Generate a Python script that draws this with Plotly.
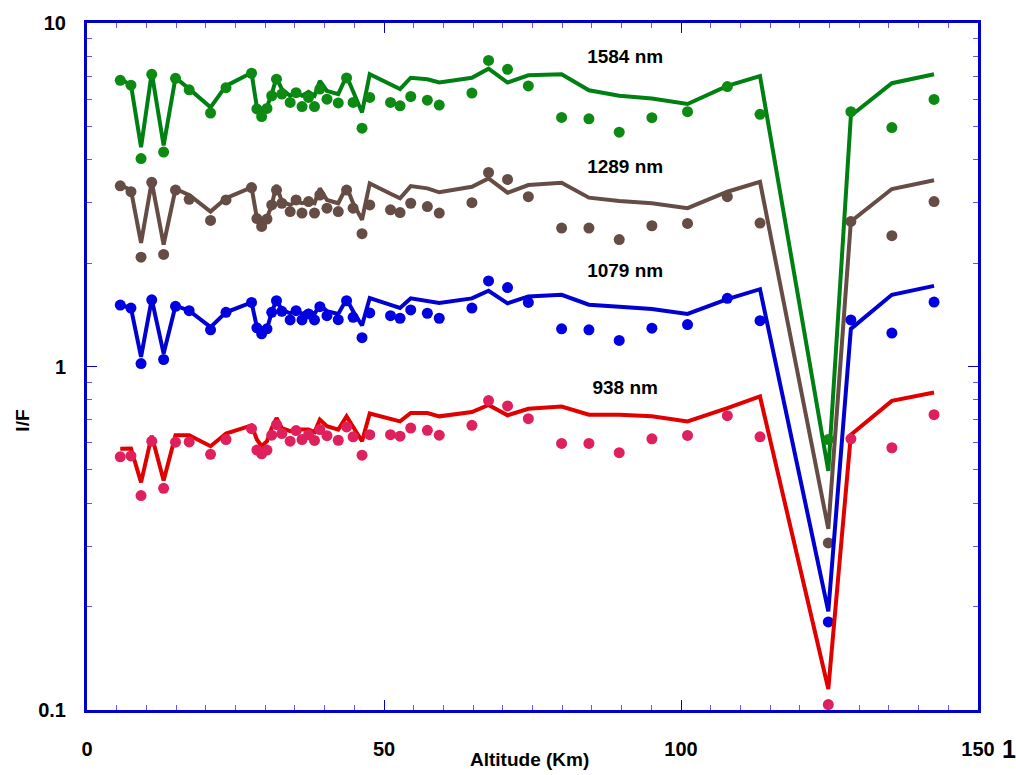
import plotly.graph_objects as go

# Altitude grid (km) shared by all channels
altitude = [5.6, 7.4, 9.1, 10.9, 12.9, 14.9, 17.2, 20.8, 23.4, 27.7,
            28.6, 29.4, 30.3, 31.1, 31.9, 32.8, 34.2, 35.2, 36.2, 37.3,
            38.3, 39.2, 40.4, 42.3, 43.7, 44.8, 46.3, 47.6, 51.1, 52.7,
            54.5, 57.3, 59.3, 64.8, 67.6, 70.8, 74.3, 79.9, 84.5, 89.6,
            95.1, 101.1, 107.8, 113.3, 124.8, 128.6, 135.5, 142.6]

# 1584 nm
model_1584 = [6.87, 6.60, 4.35, 7.16, 4.40, 6.93, 6.43, 5.68, 6.56, 7.16,
              5.68, 5.44, 5.70, 6.22, 6.93, 6.42, 6.14, 6.30, 6.14, 6.30,
              6.14, 6.78, 6.34, 6.21, 7.01, 6.34, 5.49, 7.09, 6.62, 6.42,
              6.93, 6.86, 6.71, 6.93, 7.36, 6.71, 7.04, 7.09, 6.37, 6.14,
              6.03, 5.81, 6.56, 7.01, 0.497, 5.37, 6.68, 7.09]
obs_1584 = [6.81, 6.59, 4.03, 7.09, 4.21, 6.90, 6.39, 5.47, 6.48, 7.14,
            5.62, 5.34, 5.64, 6.14, 6.86, 6.21, 5.87, 6.27, 5.71, 6.07,
            5.71, 6.42, 6.00, 5.85, 6.92, 5.87, 4.94, 6.07, 5.87, 5.74,
            6.11, 5.96, 5.77, 6.25, 7.78, 7.33, 6.56, 5.31, 5.26, 4.81,
            5.30, 5.52, 6.53, 5.42, 0.613, 5.52, 4.96, 5.99]

# 1289 nm
model_1289 = [3.374, 3.264, 2.290, 3.450, 2.265, 3.286, 3.157, 2.825, 3.089, 3.323,
              2.704, 2.621, 2.704, 2.954, 3.374, 3.020, 2.954, 3.020, 2.987, 3.020,
              2.987, 3.301, 3.054, 2.987, 3.337, 2.987, 2.674, 3.412, 3.184, 3.089,
              3.352, 3.301, 3.215, 3.337, 3.528, 3.206, 3.374, 3.425, 3.101, 3.034,
              2.987, 2.890, 3.227, 3.450, 0.337, 2.644, 3.286, 3.487]
obs_1289 = [3.358, 3.227, 2.081, 3.436, 2.119, 3.264, 3.068, 2.662, 3.054, 3.318,
            2.696, 2.557, 2.687, 2.954, 3.264, 2.987, 2.825, 3.054, 2.796, 3.020,
            2.796, 3.157, 2.890, 2.825, 3.264, 2.890, 2.436, 2.954, 2.858, 2.807,
            2.987, 2.921, 2.796, 2.999, 3.671, 3.504, 3.121, 2.530, 2.530, 2.342,
            2.569, 2.609, 3.121, 2.616, 0.3064, 2.644, 2.404, 3.020]

# 1079 nm
model_1079 = [1.510, 1.480, 1.067, 1.571, 1.090, 1.503, 1.454, 1.302, 1.438, 1.537,
              1.302, 1.254, 1.287, 1.438, 1.561, 1.461, 1.429, 1.461, 1.422, 1.454,
              1.422, 1.513, 1.448, 1.422, 1.571, 1.448, 1.316, 1.582, 1.511, 1.480,
              1.579, 1.554, 1.530, 1.579, 1.661, 1.527, 1.600, 1.617, 1.513, 1.493,
              1.470, 1.422, 1.571, 1.679, 0.1937, 1.287, 1.617, 1.717]
obs_1079 = [1.510, 1.480, 1.020, 1.564, 1.048, 1.497, 1.454, 1.279, 1.438, 1.537,
            1.296, 1.245, 1.287, 1.438, 1.554, 1.448, 1.366, 1.454, 1.366, 1.422,
            1.366, 1.493, 1.406, 1.369, 1.554, 1.391, 1.213, 1.432, 1.406, 1.382,
            1.461, 1.429, 1.382, 1.480, 1.774, 1.698, 1.537, 1.287, 1.279, 1.191,
            1.293, 1.325, 1.579, 1.360, 0.1805, 1.366, 1.251, 1.540]

# 938 nm
model_938 = [0.576, 0.577, 0.460, 0.629, 0.466, 0.631, 0.631, 0.586, 0.638, 0.674,
             0.613, 0.586, 0.606, 0.662, 0.708, 0.662, 0.648, 0.655, 0.655, 0.655,
             0.644, 0.700, 0.670, 0.655, 0.716, 0.670, 0.606, 0.730, 0.704, 0.692,
             0.732, 0.732, 0.716, 0.737, 0.773, 0.721, 0.753, 0.765, 0.724, 0.724,
             0.716, 0.692, 0.756, 0.818, 0.1151, 0.633, 0.794, 0.840]
obs_938 = [0.546, 0.549, 0.421, 0.606, 0.442, 0.602, 0.603, 0.555, 0.613, 0.659,
           0.571, 0.557, 0.571, 0.631, 0.677, 0.638, 0.606, 0.651, 0.613, 0.633,
           0.609, 0.655, 0.629, 0.610, 0.667, 0.624, 0.552, 0.633, 0.633, 0.627,
           0.662, 0.652, 0.631, 0.674, 0.796, 0.768, 0.705, 0.597, 0.597, 0.561,
           0.616, 0.630, 0.719, 0.624, 0.1037, 0.616, 0.580, 0.724]

channel_labels = ["1584 nm", "1289 nm", "1079 nm", "938 nm"]
label_x = [90.6, 90.6, 90.6, 90.6]
label_y = [7.90, 3.78, 1.88, 0.858]

series = [
    (model_1584, obs_1584, "#008012", "#0c8a12"),
    (model_1289, obs_1289, "#654c44", "#654c44"),
    (model_1079, obs_1079, "#0000d0", "#0000e0"),
    (model_938, obs_938, "#e00000", "#e0205c"),
]

AXIS_BLUE = "#0000cc"
FONT = "Liberation Sans, Arial, sans-serif"

fig = go.Figure()
for model, obs, line_col, dot_col in series:
    fig.add_trace(go.Scatter(x=altitude, y=model, mode="lines",
                             line=dict(color=line_col, width=4),
                             showlegend=False))
    fig.add_trace(go.Scatter(x=altitude, y=obs, mode="markers",
                             marker=dict(color=dot_col, size=11),
                             showlegend=False))

fig.add_trace(go.Scatter(x=label_x, y=label_y, mode="text", text=channel_labels,
                         textfont=dict(family=FONT, size=19, color="black",
                                       weight="bold"),
                         showlegend=False))

minor_y = [v * m for m in (0.1, 1) for v in range(2, 10)]

fig.update_layout(
    width=1016, height=775,
    margin=dict(l=87, r=38, t=17, b=65),
    paper_bgcolor="white", plot_bgcolor="white",
    font=dict(family=FONT, color="black"),
    xaxis=dict(
        range=[0, 150], showgrid=False, zeroline=False,
        showline=True, linecolor=AXIS_BLUE, linewidth=3, mirror="ticks",
        ticks="inside", ticklen=10, tickwidth=1, tickcolor=AXIS_BLUE,
        tickvals=[0, 50, 100, 150], ticktext=["0", "50", "100", "150"],
        tickfont=dict(family=FONT, size=20, color="black", weight="bold"),
        ticklabelstandoff=19,
        minor=dict(ticks="inside", ticklen=5, tickwidth=1, tickcolor="#5a5ae6",
                   dtick=5, tick0=0, showgrid=False),
    ),
    yaxis=dict(
        type="log", range=[-1, 1], showgrid=False, zeroline=False,
        showline=True, linecolor=AXIS_BLUE, linewidth=3, mirror="ticks",
        ticks="inside", ticklen=10, tickwidth=1, tickcolor=AXIS_BLUE,
        tickvals=[0.1, 1, 10], ticktext=["0.1", "1", "10"],
        tickfont=dict(family=FONT, size=20, color="black", weight="bold"),
        ticklabelstandoff=14,
        minor=dict(ticks="inside", ticklen=5, tickwidth=1, tickcolor="#5a5ae6",
                   tickvals=minor_y, showgrid=False),
    ),
    annotations=[
        dict(text="Altitude (Km)", xref="paper", yref="paper", x=0.497, y=-0.09,
             showarrow=False, font=dict(family=FONT, size=19, weight="bold")),
        dict(text="I/F", xref="paper", yref="paper", x=-0.086, y=0.421,
             textangle=-90, showarrow=False,
             font=dict(family=FONT, size=19, weight="bold")),
        dict(text="1", xref="paper", yref="paper", x=1.0255, y=-0.078,
             xanchor="left", showarrow=False, borderpad=0,
             font=dict(family=FONT, size=25, weight="bold")),
    ],
)

fig.write_html("out.html")
